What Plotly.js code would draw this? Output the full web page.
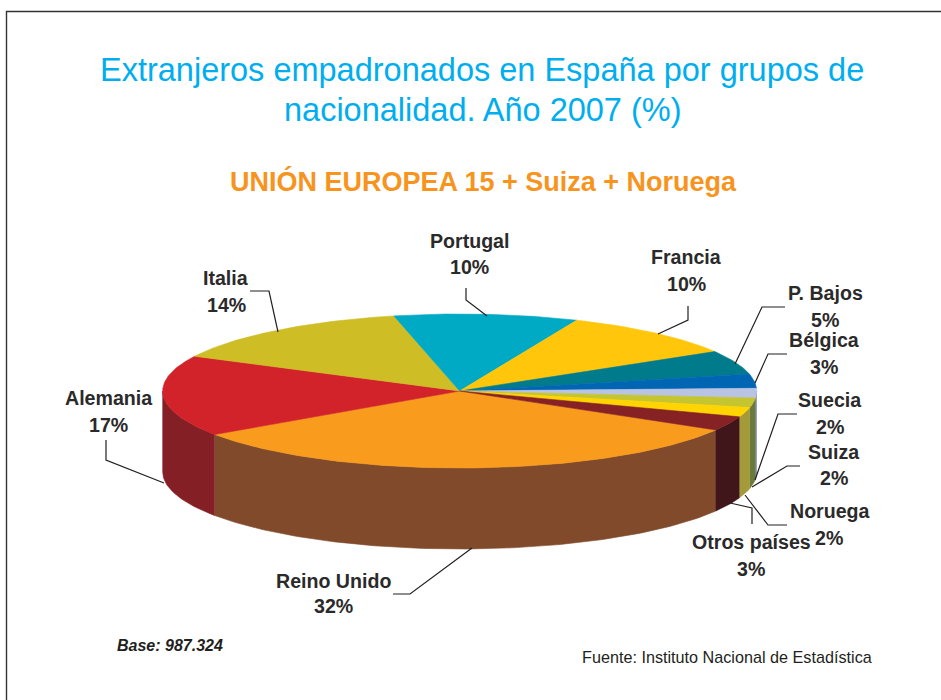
<!DOCTYPE html>
<html>
<head>
<meta charset="utf-8">
<script src="https://cdn.plot.ly/plotly-3.0.1.min.js"></script>
<style>html,body{margin:0;padding:0;background:#fff}#chart{width:941px;height:700px}</style>
</head>
<body>
<div id="chart"></div>
<script>
// Data
const categories = ["Reino Unido","Alemania","Italia","Portugal","Francia","P. Bajos","Bélgica","Suecia","Suiza","Noruega","Otros países"];
const shares = [32,17,14,10,10,5,3,2,2,2,3];
const topColors = ["#f99b1c","#d2232a","#cfbd26","#00a9c4","#ffc60b","#007b8b","#0066b3","#b9c3e3","#c4c530","#ffd400","#862124"];
const wallColors = ["#804a2b","#842025","#8f8420","#007080","#a08a10","#005a70","#3a58a0","#6f7cb0","#6a7a3a","#a59a3a","#40161b"];

// Projection of the tilted pie onto the page
const cx = 459.7, cy = 391, rx = 297, ry = 77, depth = 81, startDeg = -30.4;
const total = shares.reduce((a,b)=>a+b,0);
const px = t => cx + rx*Math.cos(t*Math.PI/180);
const py = (t,d) => cy - ry*Math.sin(t*Math.PI/180) + d;
function arc(a,b,d){const n=Math.max(2,Math.ceil(Math.abs(b-a)));const xs=[],ys=[];
  for(let i=0;i<=n;i++){const t=a+(b-a)*i/n;xs.push(px(t));ys.push(py(t,d));}return [xs,ys];}

const traces = [];
let sweep = startDeg;
const spans = shares.map(v=>{const e=sweep-v/total*360;const s=[sweep,e];sweep=e;return s;});
function poly(xs,ys,color){return {type:"scatter",mode:"lines",x:xs,y:ys,fill:"toself",fillcolor:color,
  line:{color:color,width:0.6},hoverinfo:"skip",showlegend:false};}
// side walls: only the front half (-180..0) shows
spans.forEach((s,i)=>{
  for(const off of [0,360]){
    const hi=Math.min(s[0]+off,0),lo=Math.max(s[1]+off,-180);
    if(hi>lo){const [x1,y1]=arc(hi,lo,0),[x2,y2]=arc(lo,hi,depth);
      traces.push(poly(x1.concat(x2),y1.concat(y2),wallColors[i]));}
  }
});
// top faces
spans.forEach((s,i)=>{const [xs,ys]=arc(s[0],s[1],0);
  traces.push(poly([cx].concat(xs,[cx]),[cy].concat(ys,[cy]),topColors[i]));});

// leader lines
const leaders = {
 "Reino Unido":[[393,594],[410,594],[472,548]],
 "Alemania":[[106,440],[106,460],[164,483]],
 "Italia":[[250,291],[269,291],[278,332]],
 "Portugal":[[466,288],[466,300],[487,316]],
 "Francia":[[688,306],[688,320],[658,334]],
 "P. Bajos":[[785,307],[762,307],[735,364]],
 "Bélgica":[[787,354],[768,354],[755,383]],
 "Suecia":[[797,414],[778,414],[755,480]],
 "Suiza":[[800,466],[787,466],[752,487]],
 "Noruega":[[787,525],[768,525],[745,495]],
 "Otros países":[[752,524],[752,508],[730,503]]
};
const shapes = Object.values(leaders).map(p=>({type:"path",xref:"x",yref:"y",
  path:"M"+p.map(q=>q.join(",")).join("L"),line:{color:"#231f20",width:1.2}}));
// page frame
shapes.push({type:"path",xref:"x",yref:"y",path:"M6.5,700L6.5,11.5L941,11.5",line:{color:"#333333",width:1.4}});

// label anchors
const nameAt = {"Reino Unido":[333,581],"Alemania":[108.5,398],"Italia":[226,278],"Portugal":[469,241],"Francia":[686,257],
 "P. Bajos":[825,293],"Bélgica":[824,340],"Suecia":[830,400],"Suiza":[834,452],"Noruega":[830,511],"Otros países":[751,542]};
const pctAt = {"Reino Unido":[333,606],"Alemania":[108.5,425],"Italia":[226,305],"Portugal":[469,267],"Francia":[686,284],
 "P. Bajos":[825,320],"Bélgica":[824,367],"Suecia":[830,427],"Suiza":[834,478],"Noruega":[829,538],"Otros países":[751,569]};
const txt=(x,y,text,font,anchor)=>({xref:"x",yref:"y",x,y,text,showarrow:false,xanchor:anchor||"center",yanchor:"middle",font});
const labelFont={family:"Liberation Sans, Arial, sans-serif",size:19.6,color:"#2b2a2a"};
const annotations=[];
categories.forEach((c,i)=>{
  annotations.push(txt(nameAt[c][0],nameAt[c][1],"<b>"+c+"</b>",labelFont));
  annotations.push(txt(pctAt[c][0],pctAt[c][1],"<b>"+shares[i]+"%</b>",labelFont));
});
const blue={family:"Liberation Sans, Arial, sans-serif",size:32.5,color:"#00aeef"};
annotations.push(txt(482,70,"Extranjeros empadronados en España por grupos de",blue));
annotations.push(txt(483,110,"nacionalidad. Año 2007 (%)",blue));
annotations.push(txt(483.5,181,"<b>UNIÓN EUROPEA 15 + Suiza + Noruega</b>",{family:"Liberation Sans, Arial, sans-serif",size:27,color:"#f7941d"}));
annotations.push(txt(115,645,"<b><i>Base: 987.324</i></b>",{family:"Liberation Sans, Arial, sans-serif",size:16,color:"#231f20"},"left"));
annotations.push(txt(579.5,657,"Fuente: Instituto Nacional de Estadística",{family:"Liberation Sans, Arial, sans-serif",size:16.2,color:"#231f20"},"left"));

Plotly.newPlot("chart",traces,{
  width:941,height:700,margin:{l:0,r:0,t:0,b:0},paper_bgcolor:"#fff",plot_bgcolor:"#fff",showlegend:false,
  xaxis:{range:[0,941],visible:false,fixedrange:true},
  yaxis:{range:[700,0],visible:false,fixedrange:true},
  shapes,annotations
},{displayModeBar:false,staticPlot:true});
</script>
</body>
</html>
